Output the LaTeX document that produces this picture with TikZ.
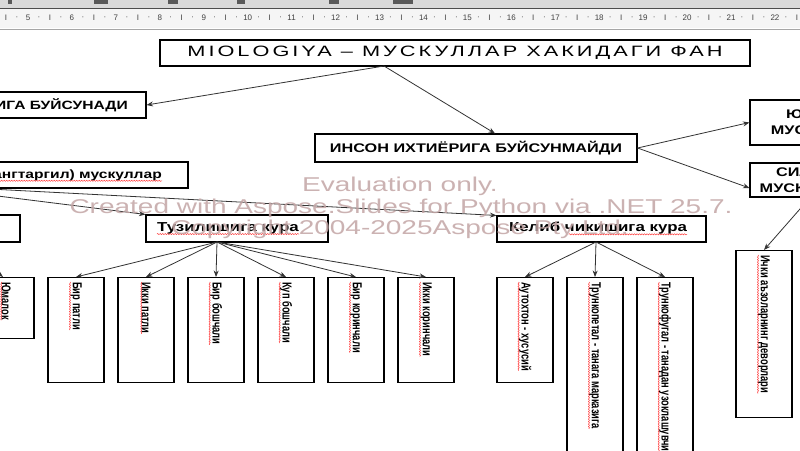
\documentclass[tikz,border=0pt]{standalone}
\usepackage{fontspec}
\setmainfont{Liberation Sans}
\newfontfamily\widefont{Liberation Sans}[FakeStretch=1.3]
\newfontfamily\condfont{Liberation Sans}[FakeStretch=0.72]
\newfontfamily\titlefont{Liberation Sans}[LetterSpace=20,FakeStretch=1.45]
\newfontfamily\wmfont{Liberation Sans}[FakeStretch=1.4]
\usetikzlibrary{arrows.meta,decorations.pathmorphing,calc}
\definecolor{wm}{RGB}{195,165,165}
\tikzset{
  box/.style={draw=black, line width=1.1pt, fill=white, inner sep=0pt},
  vbox/.style={box, minimum width=56pt},
  arr/.style={draw=black!80, line width=0.8pt, -{Stealth[length=6.5pt,width=5pt]}},
  vtxt/.style={rotate=-90, anchor=west, inner sep=0pt, font=\condfont\bfseries\fontsize{13}{14}\selectfont},
  htxt/.style={inner sep=0pt, font=\widefont\bfseries\fontsize{12.5}{14}\selectfont},
  ltxt/.style={inner sep=0pt, font=\widefont\bfseries\fontsize{13}{15}\selectfont},
  wavy/.style={draw=red!75, line width=0.5pt, decorate, decoration={snake, amplitude=0.6pt, segment length=2.5pt}},
  rulnum/.style={font=\fontsize{8}{9}\selectfont, text=black!75, inner sep=0pt},
  wmark/.style={font=\wmfont\fontsize{20}{22}\selectfont, text=wm, opacity=0.85, inner sep=0pt}
}
\begin{document}
\begin{tikzpicture}[x=1pt,y=-1pt]
\useasboundingbox (0,0) rectangle (800,450);
\clip (0,0) rectangle (800,450);
\fill[white] (0,0) rectangle (800,450);
% ruler
\fill[black!15] (0,0) rectangle (800,8);
\foreach \a/\b in {8/12,94/108,168/178,237/245,329/339,393/413}
  \fill[black!65] (\a,0) rectangle (\b,4);
\draw[black!70, line width=1pt] (0,8.5) -- (800,8.5);
\fill[black!4] (0,9) rectangle (800,28);
\draw[black!35, line width=1.5pt] (0,29.5) -- (800,29.5);
\foreach \n in {4,...,22} {
  \pgfmathsetmacro\xx{28+(\n-5)*43.94}
  \node[rulnum] (r\n) at (\xx,18) {\n};
  \node[rulnum] (q\n) at (\xx+11,18) {·};
  \node[rulnum] (h\n) at (\xx+22,18) {I};
  \node[rulnum] (s\n) at (\xx+33,18) {·};
}
% boxes
\node[box, minimum width=590pt, minimum height=26pt, font=\titlefont\fontsize{15}{17}\selectfont] (title) at (455,53) {MIOLOGIYA – МУСКУЛЛАР ХАКИДАГИ ФАН};
\node[box, minimum width=340pt, minimum height=26pt] (bsn) at (-24,105) {};
\node[htxt, anchor=east, font=\widefont\bfseries\fontsize{12}{14}\selectfont] (bsnt) at (128,105) {ИНСОН ИХТИЁРИГА БУЙСУНАДИ};
\node[box, minimum width=322pt, minimum height=28pt] (bsm) at (476,148) {};
\node[htxt] (bsmt) at (476,148) {ИНСОН ИХТИЁРИГА БУЙСУНМАЙДИ};
\node[box, minimum width=120pt, minimum height=45pt, align=center, font=\widefont\bfseries\fontsize{12.5}{16}\selectfont] (yur) at (810,122.5) {ЮРАК\\МУСКУЛИ};
\node[box, minimum width=120pt, minimum height=34pt, align=center, font=\widefont\bfseries\fontsize{12.5}{16}\selectfont] (sil) at (810,180) {СИЛЛИК\\МУСКУЛЛАР};
\node[box, minimum width=500pt, minimum height=26pt] (musk) at (-62,175) {};
\node[ltxt, anchor=east, font=\widefont\bfseries\fontsize{12}{14}\selectfont] (muskt) at (162,175) {(кундалангтаргил) мускуллар};
\node[box, minimum width=120pt, minimum height=27pt] (lft) at (-40,228.5) {};
\node[box, minimum width=182pt, minimum height=27pt] (tuz) at (237,228.5) {};
\node[ltxt] (tuzt) at (228,228) {Тузилишига кура};
\node[box, minimum width=209pt, minimum height=26pt] (kel) at (601.5,229) {};
\node[ltxt] (kelt) at (598,228) {Келиб чикишига кура};
% vertical boxes
\node[vbox, minimum height=61pt, anchor=north] (lm) at (6,277) {};
\node[vbox, minimum height=105pt, anchor=north] (bp) at (76,277) {};
\node[vbox, minimum height=105pt, anchor=north] (ip) at (146,277) {};
\node[vbox, minimum height=105pt, anchor=north] (bb) at (216,277) {};
\node[vbox, minimum height=105pt, anchor=north] (kb) at (286,277) {};
\node[vbox, minimum height=105pt, anchor=north] (bq) at (356,277) {};
\node[vbox, minimum height=105pt, anchor=north] (iq) at (426,277) {};
\node[vbox, minimum height=105pt, anchor=north] (au) at (525,277) {};
\node[vbox, minimum height=200pt, anchor=north] (tp) at (595,277) {};
\node[vbox, minimum height=200pt, anchor=north] (tf) at (665,277) {};
\node[vbox, minimum height=167pt, anchor=north] (ia) at (764,250) {};
\foreach \b/\t in {lm/Юмалок, bp/Бир патли, ip/Икки патли, bb/Бир бошчали, kb/Куп бошчали, bq/Бир коринчали, iq/Икки коринчали, au/Аутохтон - хусусий, tp/Трункопетал - танага марказига, tf/Трункофугал - танадан узоклашувчи, ia/Ички аъзоларнинг деворлари} {
  \node[vtxt] (\b t) at ([yshift=-5pt]\b.north) {\t};
  \draw[wavy] (\b t.south west) -- (\b t.south east);
}
\draw[wavy] (muskt.south west) -- (muskt.south east);
\draw[wavy] (tuzt.south west) -- (tuzt.south east);
\draw[wavy] ([xshift=60pt]kelt.south west) -- (kelt.south east);
% connectors
\coordinate (tA) at (384,66);
\draw[arr] (tA) -- (bsn.east);
\draw[arr] (tA) -- ([xshift=19pt]bsm.north);
\draw[arr] (bsm.east) -- (yur.west);
\draw[arr] (bsm.east) -- ([yshift=-8pt]sil.west);
\draw[arr] (sil.south) -- (ia.north);
\draw[arr] (musk.south) -- (tuz.north west);
\draw[arr] ([xshift=43pt]musk.south) -- (kel.north west);
\draw[arr] (lft.south) -- ([xshift=-3pt]lm.north);
\coordinate (tzs) at (217,242);
\foreach \b in {bp,ip,bb,kb,bq,iq} \draw[arr] (tzs) -- (\b.north);
\coordinate (kls) at (596,242);
\foreach \b in {au,tp,tf} \draw[arr] (kls) -- (\b.north);
% watermark
\node[wmark] (wm1) at (400,186) {Evaluation only.};
\node[wmark] (wm2) at (401,208) {Created with Aspose.Slides for Python via .NET 25.7.};
\node[wmark] (wm3) at (400,229) {Copyright 2004-2025Aspose Pty Ltd.};
\end{tikzpicture}
\end{document}
